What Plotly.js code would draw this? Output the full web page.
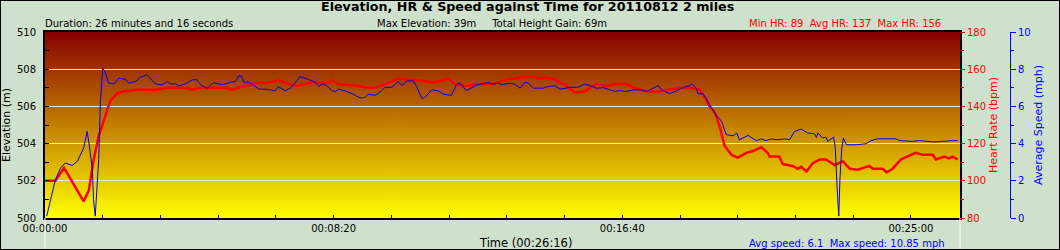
<!DOCTYPE html>
<html><head><meta charset="utf-8">
<script src="https://cdn.plot.ly/plotly-3.0.1.min.js"></script>
<style>
html,body{margin:0;padding:0;background:#cfe0cc;}
#wrap{position:relative;width:1060px;height:250px;}
#chart{width:1060px;height:250px;}
#frame{position:absolute;left:0;top:0;width:1060px;height:250px;box-sizing:border-box;border:1px solid #000;pointer-events:none;}
</style>
</head><body><div id="wrap"><div id="chart"></div><div id="frame"></div></div>
<script>
// ---- data (time in seconds) ----
const hrTime = [1,18,33,50,67,76,84,93,102,113,125,136,160,194,211,246,255,269,315,324,333,347,364,373,381,404,422,439,454,468,485,497,508,543,560,572,589,612,641,676,699,710,727,753,776,794,811,834,849,854,863,880,892,903,918,935,944,955,973,990,1007,1021,1042,1065,1079,1099,1117,1134,1143,1151,1160,1169,1177,1189,1200,1215,1226,1241,1252,1255,1272,1278,1295,1304,1310,1319,1330,1342,1353,1368,1382,1394,1408,1428,1434,1451,1458,1468,1483,1497,1508,1520,1538,1543,1558,1566,1572,1581];
const hrBpm = [100,100,107,98,89,95,111,124,133,143,147,148,149,149,150,150,149,150,150,149,150,151,152,153,152.5,154,152,151,152.5,153,152.5,154,152,151,150,150,152,155,154,153,155,152,151,152,152,154,155,156,156,155,155.5,155,153,151,147.5,148,150,152,151,152,152,150,148,148,149,150,150,149,145,140,137,129,119,114,112.5,115,116,118,115,113,113,109,108,106.5,107.5,105,109.5,111.5,111.5,108.5,110.5,106.5,106,108,106.5,106.5,104.5,106.5,111.5,113.5,115,114,114,111.5,113,112,113,111.5];
const speedTime = [3,10,18,27,35,47,56,67,73,77,82,84,87,93,96,100,105,110,119,128,139,145,157,165,177,191,203,211,217,226,231,243,255,263,272,281,292,307,321,330,336,341,344,353,361,370,381,399,404,416,425,433,442,454,468,474,480,488,497,503,508,523,534,546,554,560,572,583,589,601,612,618,627,638,644,653,658,670,681,690,704,713,719,730,742,748,768,776,785,791,805,814,823,831,837,846,863,872,883,892,903,909,923,935,944,955,967,975,987,994,1007,1019,1033,1042,1053,1062,1068,1082,1094,1105,1114,1121,1128,1131,1140,1148,1160,1172,1180,1192,1198,1203,1218,1232,1241,1249,1258,1267,1284,1290,1298,1310,1321,1333,1336,1339,1347,1353,1356,1366,1369,1372,1375,1377,1380,1383,1388,1405,1422,1431,1442,1474,1480,1503,1515,1538,1555,1581];
const speedMph = [0.1,1.0,2.06,2.69,2.96,2.82,3.05,3.76,4.65,3.85,2.6,1.0,0.1,3.14,6.26,8.05,7.78,7.25,7.21,7.52,7.46,7.25,7.34,7.57,7.69,7.21,7.16,7.34,7.21,7.21,7.1,7.21,7.43,7.43,7.1,6.98,7.28,7.16,7.3,7.34,7.66,7.6,7.3,7.3,7.16,6.93,6.93,6.85,7.07,6.84,6.98,7.25,7.6,7.48,7.3,7.07,7.21,7.12,6.84,6.8,6.93,6.8,6.66,6.45,6.48,6.66,6.59,6.84,7.03,7.03,7.34,7.12,7.37,7.37,7.07,6.41,6.48,6.89,6.84,6.66,6.59,7.2,7.25,6.85,7.03,7.16,7.28,7.2,7.25,7.16,7.25,7.2,6.98,7.3,7.25,6.98,6.98,7.07,7.12,6.93,6.98,7.03,7.03,7.2,7.12,6.98,7.01,6.93,6.8,6.85,6.8,6.89,6.89,6.8,6.98,7.12,6.89,6.68,6.84,7.01,7.1,7.2,6.98,6.68,6.68,6.26,5.64,5.19,4.48,4.42,4.57,4.21,4.44,4.16,4.25,4.16,4.25,4.21,4.25,4.21,4.65,4.78,4.57,4.53,4.33,4.57,4.3,4.35,4.12,4.35,3.76,1.7,0.1,2.06,3.67,4.3,3.94,3.94,3.99,4.16,4.26,4.26,4.16,4.12,4.16,4.09,4.12,4.17];
const elevationTime = [];   // no elevation samples are drawn in the reference
const elevationM = [];
const timeTickSeconds = [0,500,1000,1500];
const timeTickLabels = ['00:00:00','00:08:20','00:16:40','00:25:00'];
const chartTitle = 'Elevation, HR & Speed against Time for 20110812 2 miles';
const durationText = 'Duration: 26 minutes and 16 seconds';
const elevText = 'Max Elevation: 39m&nbsp;&nbsp;&nbsp;&nbsp;&nbsp;Total Height Gain: 69m';
const hrText = 'Min HR: 89&nbsp;&nbsp;Avg HR: 137&nbsp;&nbsp;Max HR: 156';
const speedText = 'Avg speed: 6.1&nbsp;&nbsp;Max speed: 10.85 mph';
const xTitle = 'Time (00:26:16)';

// ---- layout geometry ----
const W = 1060, H = 250, L = 45, R = 40, T = 32, B = 32;
const plotRight = 960, speedAxisX = 1010;
const pw = W - L - R, ph = H - T - B;
const px = v => (v - L) / pw;
const py = v => (H - B - v) / ph;
const dom = (plotRight - L) / pw;

// gradient background
const cv = document.createElement('canvas'); cv.width = 4; cv.height = 372;
const ctx = cv.getContext('2d');
const g = ctx.createLinearGradient(0, 0, 0, 372);
g.addColorStop(0, 'rgb(136,0,0)'); g.addColorStop(1, 'rgb(255,255,0)');
ctx.fillStyle = g; ctx.fillRect(0, 0, 4, 372);
const bg = cv.toDataURL();

const F = 'DejaVu Sans';
const traces = [
  {x: elevationTime, y: elevationM, xaxis: 'x', yaxis: 'y', type: 'scatter', mode: 'lines', line: {color: '#000', width: 1}, hoverinfo: 'skip'},
  {x: hrTime, y: hrBpm, xaxis: 'x', yaxis: 'y2', type: 'scatter', mode: 'lines', line: {color: '#ff0000', width: 2.5}, hoverinfo: 'skip'},
  {x: speedTime, y: speedMph, xaxis: 'x', yaxis: 'y3', type: 'scatter', mode: 'lines', line: {color: '#0000ff', width: 1}, hoverinfo: 'skip'}
];
const ann = (text, x, y, opts) => Object.assign({text, x: px(x), y: py(y), xref: 'paper', yref: 'paper', showarrow: false, yanchor: 'middle', font: {family: F, size: 10, color: '#000'}}, opts);
const layout = {
  width: W, height: H,
  margin: {l: L, r: R, t: T, b: B, pad: 0},
  paper_bgcolor: '#cfe0cc', plot_bgcolor: 'rgba(0,0,0,0)',
  showlegend: false,
  font: {family: F, size: 10, color: '#000'},
  xaxis: {domain: [0, dom], range: [0, 1585], tickmode: 'array', tickvals: timeTickSeconds, ticktext: timeTickLabels,
    ticks: 'inside', ticklen: 3, tickcolor: '#000', showline: true, linecolor: '#000', linewidth: 2, mirror: true,
    showgrid: false, zeroline: false, fixedrange: true, tickfont: {size: 10},
    minor: {tickmode: 'linear', tick0: 0, dtick: 100, ticks: 'inside', ticklen: 3, tickcolor: '#000', showgrid: false}},
  yaxis: {range: [500, 510], tick0: 500, dtick: 2, ticks: 'inside', ticklen: 4, tickcolor: '#000',
    showgrid: true, gridcolor: '#e6e6e6', gridwidth: 1, showline: true, linecolor: '#000', linewidth: 2, mirror: true,
    zeroline: false, fixedrange: true, ticklabelstandoff: 5, tickfont: {size: 10},
    minor: {dtick: 1, ticks: 'inside', ticklen: 4, tickcolor: '#000', showgrid: false},
    title: {text: 'Elevation (m)', font: {size: 11}, standoff: 4}},
  yaxis2: {overlaying: 'y', side: 'right', anchor: 'x', range: [80, 180], tick0: 80, dtick: 20,
    ticks: 'outside', ticklen: 4, tickcolor: '#ff0000', tickfont: {color: '#ff0000', size: 10},
    showgrid: false, zeroline: false, showline: false, fixedrange: true,
    minor: {dtick: 10, ticks: 'outside', ticklen: 3, tickcolor: '#ff0000', showgrid: false},
    title: {text: 'Heart Rate (bpm)', font: {color: '#ff0000', size: 11}, standoff: 4}},
  yaxis3: {overlaying: 'y', side: 'right', anchor: 'free', position: px(speedAxisX), range: [0, 10], tick0: 0, dtick: 2,
    ticks: 'outside', ticklen: 5, tickcolor: '#0000ff', tickfont: {color: '#0000ff', size: 10},
    showgrid: false, zeroline: false, showline: true, linecolor: '#0000ff', linewidth: 1, fixedrange: true,
    minor: {dtick: 1, ticks: 'outside', ticklen: 3, tickcolor: '#0000ff', showgrid: false},
    title: {text: 'Average Speed (mph)', font: {color: '#0000ff', size: 11}, standoff: 4}},
  images: [{source: bg, xref: 'paper', yref: 'paper', x: 0, y: 1, sizex: dom, sizey: 1, xanchor: 'left', yanchor: 'top', sizing: 'stretch', layer: 'below'}],
  shapes: [
    {type: 'line', xref: 'paper', yref: 'paper', x0: 0, x1: 0, y0: 0, y1: py(H), line: {color: '#ffffff', width: 1}},
    {type: 'line', xref: 'paper', yref: 'paper', x0: dom, x1: dom, y0: 0, y1: py(H), line: {color: '#ffffff', width: 1}}
  ],
  annotations: [
    ann('<b>' + chartTitle + '</b>', 527, 7, {xanchor: 'center', font: {family: F, size: 12.7, color: '#000'}}),
    ann(durationText, 42.7, 23.5, {xanchor: 'left'}),
    ann(elevText, 375, 23.5, {xanchor: 'left'}),
    ann(hrText, 747.3, 23, {xanchor: 'left', font: {family: F, size: 10, color: '#ff0000'}}),
    ann(xTitle, 525, 243, {xanchor: 'center', font: {family: F, size: 11.5, color: '#000'}}),
    ann(speedText, 747.3, 243.5, {xanchor: 'left', font: {family: F, size: 10, color: '#0000ff'}})
  ]
};
Plotly.newPlot('chart', traces, layout, {staticPlot: true, displayModeBar: false});
</script>
</body></html>
